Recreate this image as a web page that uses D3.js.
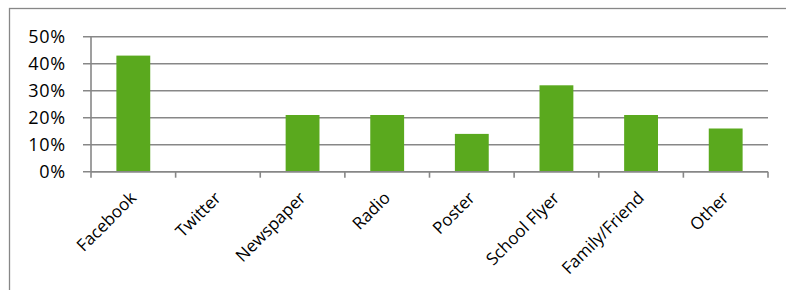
<!DOCTYPE html>
<html>
<head>
<meta charset="utf-8">
<script src="https://cdn.jsdelivr.net/npm/d3@7"></script>
<style>
  body { margin: 0; background: #fff; }
  text { font-family: "Open Sans", sans-serif; fill: #000; }
</style>
</head>
<body>
<svg id="chart"></svg>
<script>
const categories = ["Facebook", "Twitter", "Newspaper", "Radio", "Poster", "School Flyer", "Family/Friend", "Other"];
const values = [43, 0, 21, 21, 14, 32, 21, 16];
const yTicks = [0, 10, 20, 30, 40, 50];

const width = 786;
const height = 290;
const plot = { left: 91, right: 768, top: 36.7, bottom: 171.7 };
const gridColor = "#878787";

const svg = d3.select("#chart")
  .attr("width", width)
  .attr("height", height);

// outer chart frame (runs off the right and bottom of the picture)
svg.append("rect")
  .attr("x", 9.5).attr("y", 8.5)
  .attr("width", 820).attr("height", 320)
  .attr("fill", "none")
  .attr("stroke", gridColor)
  .attr("stroke-width", 1.3);

const x = d3.scaleBand()
  .domain(categories)
  .range([plot.left, plot.right])
  .paddingInner(0.6)
  .paddingOuter(0.3);

const y = d3.scaleLinear()
  .domain([0, 50])
  .range([plot.bottom, plot.top]);

// horizontal gridlines + y ticks
svg.append("g")
  .selectAll("line")
  .data(yTicks)
  .join("line")
  .attr("x1", plot.left - 8)
  .attr("x2", plot.right)
  .attr("y1", d => y(d))
  .attr("y2", d => y(d))
  .attr("stroke", gridColor)
  .attr("stroke-width", 1.6);

// y labels
svg.append("g")
  .selectAll("text")
  .data(yTicks)
  .join("text")
  .attr("x", 66)
  .attr("y", d => y(d))
  .attr("dy", "0.36em")
  .attr("text-anchor", "end")
  .attr("font-size", "18px")
  .attr("letter-spacing", "0.8px")
  .text(d => d + "%");

// y axis line
svg.append("line")
  .attr("x1", plot.left).attr("x2", plot.left)
  .attr("y1", plot.top).attr("y2", plot.bottom + 6)
  .attr("stroke", gridColor)
  .attr("stroke-width", 1.6);

// category boundary ticks
const bounds = d3.range(categories.length + 1).map(i => plot.left + i * (plot.right - plot.left) / categories.length);
svg.append("g")
  .selectAll("line")
  .data(bounds.slice(1))
  .join("line")
  .attr("x1", d => d).attr("x2", d => d)
  .attr("y1", plot.bottom).attr("y2", plot.bottom + 6)
  .attr("stroke", gridColor)
  .attr("stroke-width", 1.6);

// bars
svg.append("g")
  .selectAll("rect")
  .data(values)
  .join("rect")
  .attr("x", (d, i) => x(categories[i]))
  .attr("width", x.bandwidth())
  .attr("y", d => y(d))
  .attr("height", d => y(0) - y(d))
  .attr("fill", "#5aa91e");

// baseline drawn over bars
svg.append("line")
  .attr("x1", plot.left).attr("x2", plot.right)
  .attr("y1", y(0)).attr("y2", y(0))
  .attr("stroke", gridColor)
  .attr("stroke-width", 1.6);

// rotated category labels
svg.append("g")
  .selectAll("text")
  .data(categories)
  .join("text")
  .attr("transform", d => `translate(${x(d) + x.bandwidth() / 2 + 4},199) rotate(-45)`)
  .attr("text-anchor", "end")
  .attr("font-size", "17px")
  .text(d => d);
</script>
</body>
</html>
